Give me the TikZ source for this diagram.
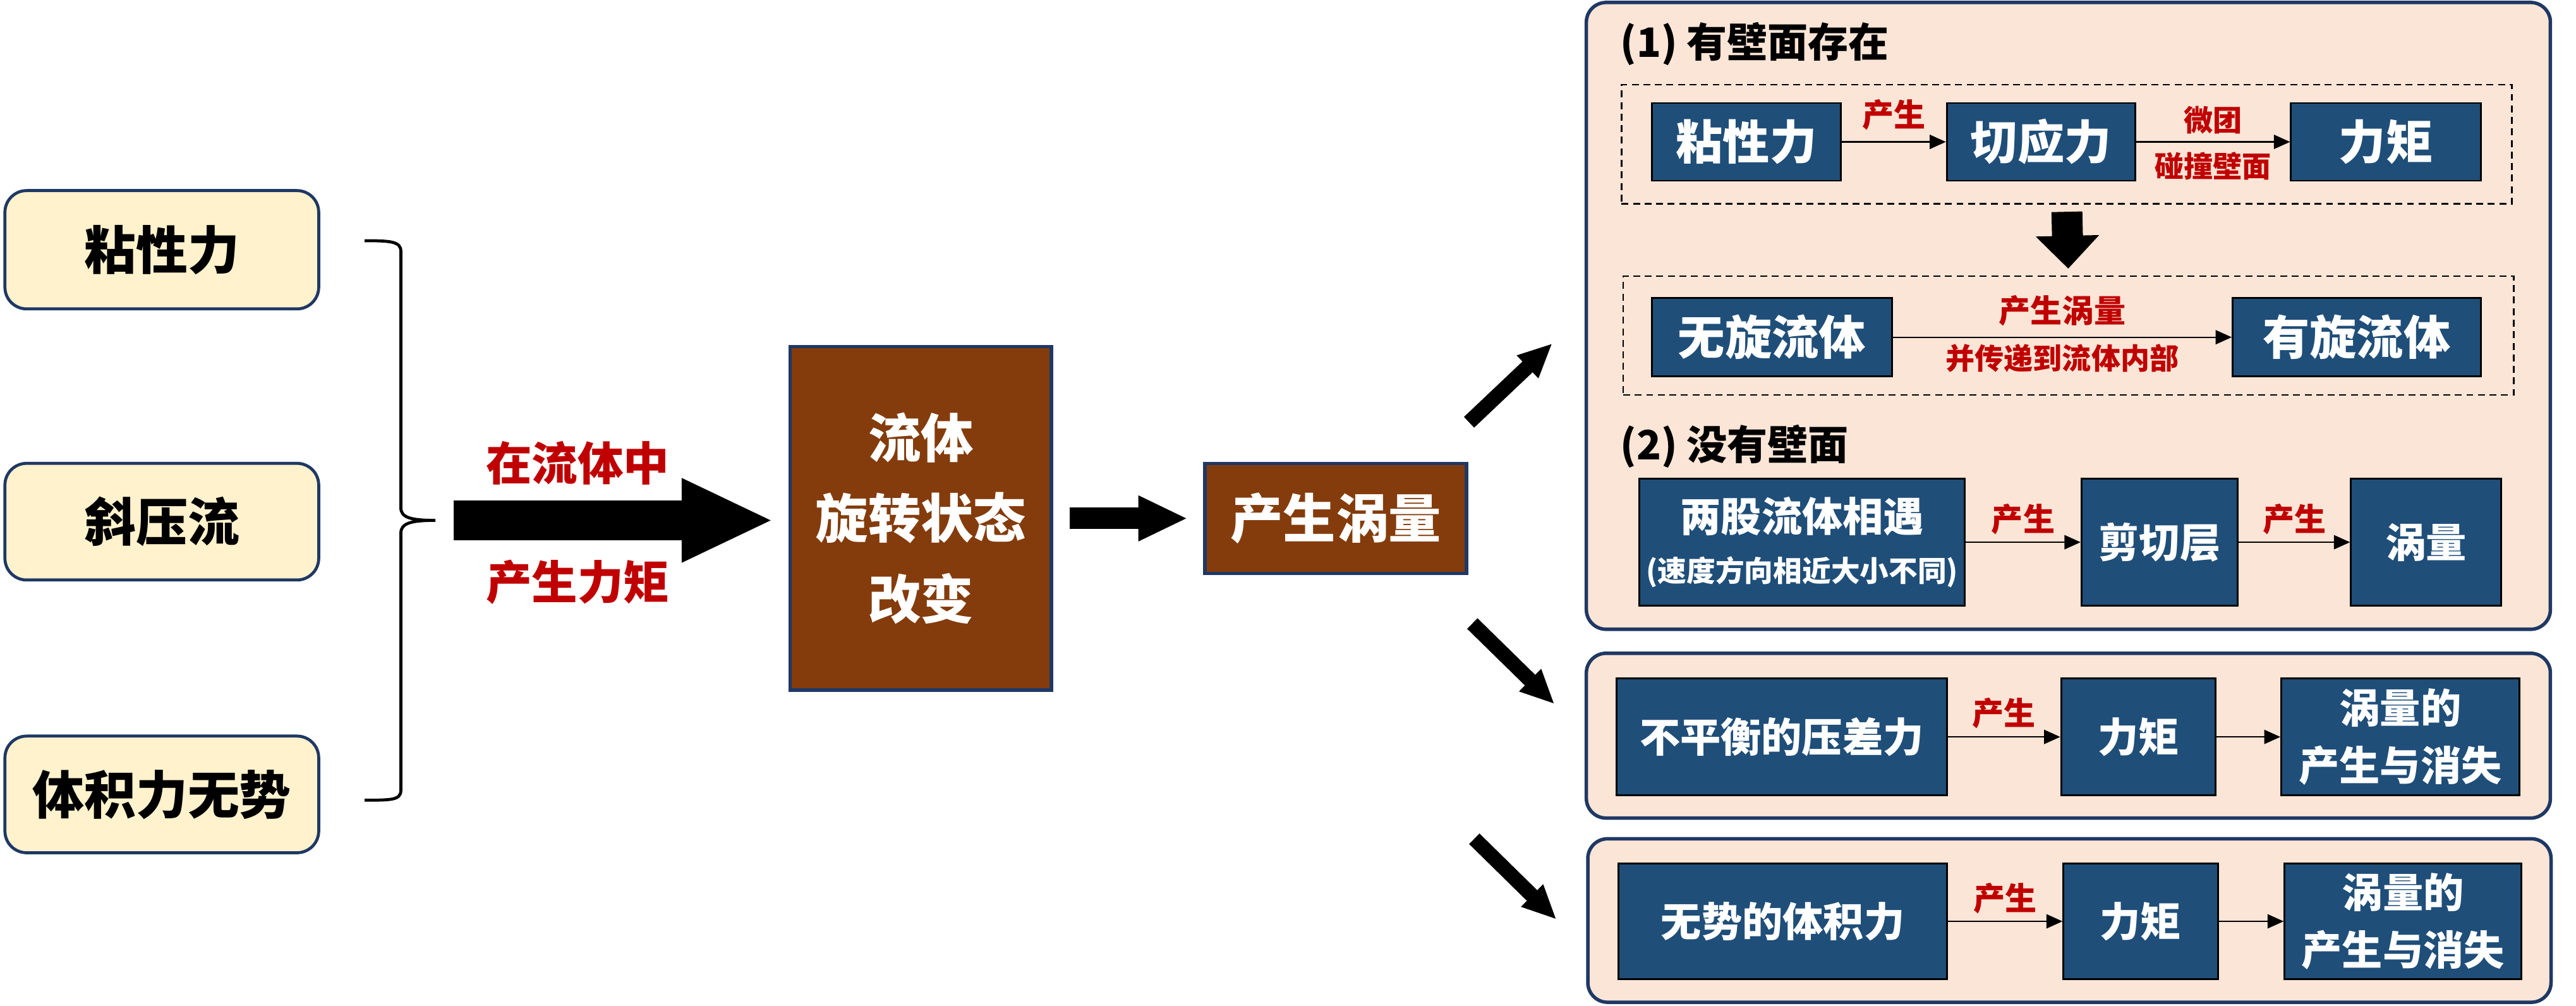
\documentclass[tikz,border=0pt]{standalone}
\usepackage{fontspec}
\setmainfont{Noto Sans CJK SC}
\usetikzlibrary{arrows.meta}
\definecolor{cream}{HTML}{FFF2CC}
\definecolor{navy}{HTML}{1F3864}
\definecolor{brownf}{HTML}{843C0C}
\definecolor{peach}{HTML}{FBE5D6}
\definecolor{boxblue}{HTML}{1F4E79}
\definecolor{darkred}{HTML}{C00000}
\tikzset{
  sz/.style 2 args={minimum width=#1*0.025cm, minimum height=#2*0.025cm},
  leftbox/.style={draw=navy, line width=1.3pt, fill=cream, rounded corners=0.33cm, inner sep=0pt,
    font=\bfseries\fontsize{22.4pt}{26pt}\selectfont, align=center},
  brownbox/.style={draw=navy, line width=1.5pt, fill=brownf, inner sep=0pt, text=white, align=center,
    font=\bfseries\fontsize{22.8pt}{34.85pt}\selectfont},
  panel/.style={draw=navy, line width=1.5pt, fill=peach, rounded corners=0.3cm, inner sep=0pt},
  dashbox/.style={draw=black, line width=0.7pt, dash pattern=on 3pt off 2pt, inner sep=0pt},
  bluebox/.style={draw=black, line width=0.8pt, fill=boxblue, text=white, inner sep=0pt, align=center,
    font=\bfseries\fontsize{20.3pt}{24pt}\selectfont},
  bluemid/.style={bluebox, font=\bfseries\fontsize{17.57pt}{24.9pt}\selectfont},
  bluetwo/.style={bluebox, font=\bfseries\fontsize{17.57pt}{21.5pt}\selectfont},
  title/.style={inner sep=0pt, anchor=west, font=\bfseries\fontsize{17.5pt}{20pt}\selectfont},
  lab/.style={text=darkred, inner sep=0pt, font=\bfseries\fontsize{13.7pt}{16pt}\selectfont},
  labs/.style={text=darkred, inner sep=0pt, font=\bfseries\fontsize{12.6pt}{15pt}\selectfont},
  labbig/.style={text=darkred, inner sep=0pt, font=\bfseries\fontsize{19.85pt}{22pt}\selectfont},
  conn/.style={-{Triangle[length=0.245cm,width=0.215cm]}, line width=0.6pt},
  bigarrow/.style={line width=0.6125cm, -{Triangle[length=1.4cm,width=1.175cm]}},
  midarrow/.style={line width=0.325cm, -{Triangle[length=0.75cm,width=0.64cm]}},
  diagarrow/.style={line width=0.225cm, -{Triangle[length=0.52cm,width=0.44cm]}},
  downarrow/.style={line width=0.47cm, -{Triangle[length=0.5cm,width=0.935cm]}}
}
\begin{document}
\begin{tikzpicture}[x=0.025cm,y=-0.025cm]
\fill[white] (0,0) rectangle (1568,612);
\useasboundingbox (0,0) rectangle (1568,612);

% left boxes
\node[leftbox, sz={191}{72}] (l1) at (98.5,152) {粘性力};
\node[leftbox, sz={191}{71}] (l2) at (98.5,317.5) {斜压流};
\node[leftbox, sz={191}{71}] (l3) at (98.5,483.5) {体积力无势};

% brace
\coordinate (bt) at (265,316.7);
\draw[line width=1.3pt] (222,146.5) .. controls (238,146.5) and (244,147) .. (244,153) -- (244,309)
  .. controls (244,315) and (250,316.7) .. (bt)
  .. controls (250,316.7) and (244,318.5) .. (244,324.5) -- (244,481)
  .. controls (244,487) and (238,487) .. (222,487);

% brown boxes
\node[brownbox, sz={159}{209}] (b1) at (560.5,315.5) {流体\\旋转状态\\改变};
\node[brownbox, sz={159.2}{67}] (b2) at (813.1,315.5) {产生涡量};

\draw[bigarrow, shorten <=0.275cm, shorten >=0.225cm] (bt) -- (bt -| b1.west)
  node[labbig, pos=0.403, yshift=0.875cm] {在流体中}
  node[labbig, pos=0.403, yshift=-0.94cm] {产生力矩};
\draw[midarrow, shorten <=0.25cm, shorten >=0.2375cm] (b1.east |- b2.west) -- (b2.west);

% diagonal arrows
\coordinate (du1) at (894.2,257);   \coordinate (du2) at (944.9,209);
\coordinate (dm1) at (896.2,379.5); \coordinate (dm2) at (946.2,428.5);
\coordinate (db1) at (897.4,510.5); \coordinate (db2) at (947.4,559.6);
\draw[diagarrow] (du1) -- (du2);
\draw[diagarrow] (dm1) -- (dm2);
\draw[diagarrow] (db1) -- (db2);

% panels
\node[panel, sz={586.8}{381.5}] (p1) at (1259,192.25) {};
\node[panel, sz={586.8}{100.3}] (p2) at (1259,447.75) {};
\node[panel, sz={586.3}{99.5}] (p3) at (1259.65,560.25) {};

% panel 1
\node[title] (t1) at (986,26.6) {(1) 有壁面存在};
\node[dashbox, sz={542}{72.5}] (d1) at (1258,87.75) {};
\node[bluebox, sz={115}{47.3}] (n1) at (1063,86.35) {粘性力};
\node[bluebox, sz={114.7}{47.3}] (n2) at (1242.35,86.35) {切应力};
\node[bluebox, sz={115.5}{47.3}] (n3) at (1452.25,86.35) {力矩};
\draw[conn] (n1) -- node[lab, yshift=0.41cm] {产生} (n2);
\draw[conn] (n2) -- node[labs, yshift=0.334cm] {微团} node[labs, yshift=-0.366cm] {碰撞壁面} (n3);

\node[dashbox, sz={542}{72.4}] (d2) at (1259,204.2) {};
\draw[downarrow, shorten <=0.11cm, shorten >=0.1cm] (d1.south) -- (d2.north);
\node[bluebox, sz={146.1}{47.5}] (n4) at (1078.55,205.25) {无旋流体};
\node[bluebox, sz={151}{47.5}] (n5) at (1434.5,205.25) {有旋流体};
\draw[conn] (n4) -- node[lab, yshift=0.406cm] {产生涡量} node[labs, yshift=-0.32cm] {并传递到流体内部} (n5);

\node[title] (t2) at (986,271.5) {(2) 没有壁面};
\node[bluetwo, sz={198}{77}] (n6) at (1097,330) {两股流体相遇\\{\fontsize{12.5pt}{15pt}\selectfont (速度方向相近大小不同)}};
\node[bluemid, sz={95}{77}] (n7) at (1314.5,330) {剪切层};
\node[bluemid, sz={91.5}{77}] (n8) at (1476.75,330) {涡量};
\draw[conn] (n6) -- node[lab, yshift=0.35cm] {产生} (n7);
\draw[conn] (n7) -- node[lab, yshift=0.35cm] {产生} (n8);

% panel 2
\node[bluemid, sz={201}{71}] (n9) at (1084.5,448.5) {不平衡的压差力};
\node[bluemid, sz={94.1}{71}] (n10) at (1301.65,448.5) {力矩};
\node[bluemid, sz={144.9}{71}] (n11) at (1461.05,448.5) {涡量的\\产生与消失};
\draw[conn] (n9) -- node[lab, yshift=0.36cm] {产生} (n10);
\draw[conn] (n10) -- (n11);

% panel 3
\node[bluemid, sz={199.7}{70.5}] (n12) at (1085.15,560.75) {无势的体积力};
\node[bluemid, sz={94}{70.5}] (n13) at (1303,560.75) {力矩};
\node[bluemid, sz={144.2}{70.5}] (n14) at (1462.7,560.75) {涡量的\\产生与消失};
\draw[conn] (n12) -- node[lab, yshift=0.35cm] {产生} (n13);
\draw[conn] (n13) -- (n14);
\end{tikzpicture}
\end{document}
